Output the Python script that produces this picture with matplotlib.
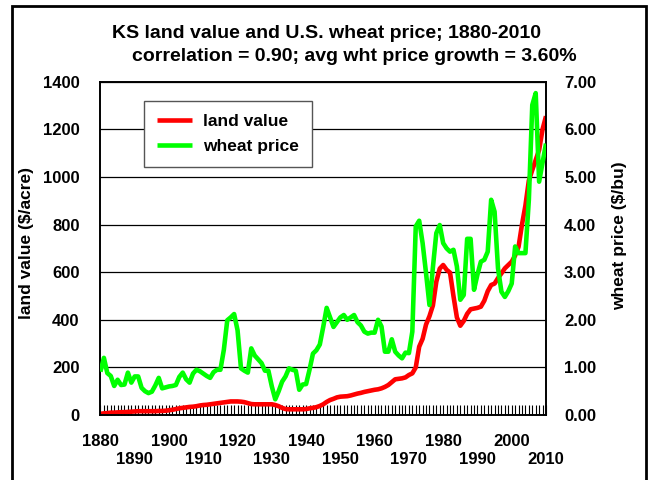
import matplotlib
matplotlib.use("Agg")
import matplotlib.pyplot as plt
from matplotlib.patches import Rectangle
from matplotlib.ticker import FixedLocator, MultipleLocator, FormatStrFormatter

plt.rcParams["font.family"] = ["Liberation Sans", "DejaVu Sans"]
plt.rcParams["font.weight"] = "bold"

years = list(range(1880, 2011))

# KS land value, $/acre (one value per year, 1880-2010)
land_value = [
    5, 7, 8, 10, 10, 11, 12, 12, 13, 14,
    15, 16, 16, 16, 16, 16, 16, 17, 17, 18,
    20, 22, 25, 28, 30, 32, 34, 35, 37, 40,
    42, 43, 45, 47, 49, 51, 53, 55, 57, 57,
    57, 56, 54, 50, 46, 45, 45, 45, 45, 45,
    45, 42, 37, 30, 25, 24, 24, 24, 24, 24,
    25, 28, 30, 33, 38, 45, 55, 63, 68, 74,
    77, 78, 79, 82, 86, 90, 93, 97, 100, 103,
    106, 108, 112, 118, 126, 138, 150, 152, 154, 158,
    168, 175, 200, 287, 320, 380, 415, 460, 560, 615,
    630, 610, 598, 500, 410, 375, 395, 425, 444, 447,
    450, 455, 480, 520, 546, 552, 575, 595, 616, 630,
    644, 670, 707, 800, 880, 985, 1029, 1071, 1113, 1200,
    1255,
]

# U.S. wheat price, $/bu
wheat_price = [
    0.91, 1.20, 0.88, 0.82, 0.61, 0.74, 0.63, 0.64, 0.89, 0.68,
    0.81, 0.81, 0.57, 0.50, 0.46, 0.49, 0.62, 0.78, 0.56, 0.58,
    0.60, 0.61, 0.63, 0.80, 0.89, 0.75, 0.68, 0.87, 0.95, 0.92,
    0.87, 0.82, 0.78, 0.90, 0.95, 0.95, 1.37, 1.99, 2.05, 2.12,
    1.78, 0.98, 0.93, 0.89, 1.40, 1.25, 1.17, 1.09, 0.93, 0.93,
    0.60, 0.33, 0.50, 0.70, 0.81, 0.98, 0.95, 0.93, 0.53, 0.64,
    0.65, 0.95, 1.29, 1.36, 1.48, 1.85, 2.25, 2.05, 1.85, 1.95,
    2.05, 2.10, 2.00, 2.05, 2.10, 1.95, 1.88, 1.75, 1.71, 1.73,
    1.73, 2.00, 1.86, 1.33, 1.33, 1.59, 1.33, 1.25, 1.19, 1.31,
    1.30, 1.75, 3.96, 4.08, 3.61, 2.98, 2.31, 3.10, 3.82, 3.99,
    3.61, 3.50, 3.43, 3.47, 3.12, 2.42, 2.52, 3.70, 3.70, 2.63,
    2.95, 3.22, 3.26, 3.43, 4.52, 4.27, 3.08, 2.59, 2.48, 2.60,
    2.76, 3.54, 3.40, 3.40, 3.40, 4.52, 6.51, 6.76, 4.90, 5.30,
    5.70,
]

decades = list(range(1880, 2011, 10))
decade_labels = [str(d) if i % 2 == 0 else "\n" + str(d) for i, d in enumerate(decades)]

fig = plt.figure(figsize=(6.52, 4.80), dpi=100)
ax = fig.add_axes([0.1541, 0.1354, 0.6833, 0.6944])
ax2 = ax.twinx()

(red_line,) = ax.plot(years, land_value, color="#ff0000", lw=3.3, solid_capstyle="butt", zorder=2)
(green_line,) = ax2.plot(years, wheat_price, color="#00ff00", lw=3.3, solid_capstyle="butt", zorder=3)

ax.set_xlim(1880, 2010)
ax.set_ylim(0, 1400)
ax2.set_ylim(0, 7)
ax.yaxis.set_major_locator(MultipleLocator(200))
ax2.yaxis.set_major_locator(MultipleLocator(1))
ax2.yaxis.set_major_formatter(FormatStrFormatter("%.2f"))

ax.grid(axis="y", color="black", lw=0.9)
ax.set_axisbelow(True)

ax.xaxis.set_major_locator(FixedLocator(decades))
ax.set_xticklabels(decade_labels)
ax.xaxis.set_minor_locator(MultipleLocator(1))
ax.tick_params(axis="x", which="both", direction="in", length=7, width=0.8, pad=14,
               labelsize=12, bottom=True, top=False)
ax.tick_params(axis="y", length=0, pad=15, labelsize=12)
ax2.tick_params(axis="y", length=0, pad=13, labelsize=12)
for lab in ax.get_xticklabels() + ax.get_yticklabels() + ax2.get_yticklabels():
    lab.set_fontweight("bold")

for sp in ax.spines.values():
    sp.set_linewidth(1.2)
for sp in ax2.spines.values():
    sp.set_linewidth(1.2)

ax.set_ylabel("land value ($/acre)", fontsize=12.5, fontweight="bold")
ax.yaxis.set_label_coords(-0.150, 0.516)
ax2.set_ylabel("wheat price ($/bu)", fontsize=12.5, fontweight="bold", rotation=90)
ax2.yaxis.set_label_coords(1.148, 0.537)

leg = ax2.legend([red_line, green_line], ["land value", "wheat price"],
                 loc="upper left", bbox_to_anchor=(0.0976, 0.942), borderaxespad=0,
                 fancybox=False, framealpha=1, edgecolor="#555555",
                 prop={"size": 12.5, "weight": "bold"},
                 handlelength=2.0, handletextpad=0.65, borderpad=0.75, labelspacing=0.55)
leg.get_frame().set_linewidth(1.0)

fig.text(0.5, 0.931, "KS land value and U.S. wheat price; 1880-2010",
         ha="center", va="center", fontsize=14, fontweight="bold")
fig.text(0.543, 0.883, "correlation = 0.90; avg wht price growth = 3.60%",
         ha="center", va="center", fontsize=14, fontweight="bold")

fig.patches.append(Rectangle((11.7 / 652, -0.05), 634 / 652, 1.05 - 5.7 / 480,
                             transform=fig.transFigure, fill=False, edgecolor="black",
                             lw=2.0, clip_on=False))

fig.savefig("out.png", dpi=100)
